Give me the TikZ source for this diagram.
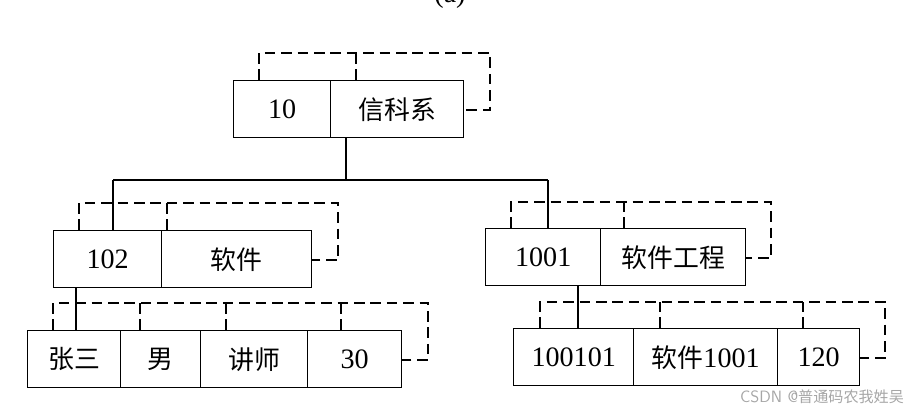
\documentclass[tikz,border=0pt]{standalone}
\usepackage{fontspec}
\setmainfont{Liberation Serif}
\newfontfamily\cjk{Noto Sans CJK SC}[Scale=0.92]
\begin{document}
\begin{tikzpicture}[x=0.03cm,y=-0.03cm,
  cellbox/.style={draw,line width=1.2pt,minimum height=57*0.03cm,inner sep=0pt,anchor=north west,font=\fontsize{24}{27}\selectfont},
  dsh/.style={draw,line width=1.1pt,dash pattern=on 9pt off 5pt},
  link/.style={draw,line width=1.2pt}]
\useasboundingbox (0,0) rectangle (917,415);
\clip (0,0) rectangle (917,415);
\node[font=\fontsize{24}{27}\selectfont] (lbl) at (450,-4) {(a)};
% top
\node[cellbox,minimum width=97*0.03cm] (t1) at (233,80) {10};
\node[cellbox,minimum width=133*0.03cm] (t2) at (330,80) {\cjk 信科系};
\draw[dsh] (259,80) -- (259,53) -- (490,53) -- (490,110) -- (463,110);
\draw[dsh] (356,80) -- (356,53);
% left mid
\node[cellbox,minimum width=108*0.03cm] (l1) at (53,230) {102};
\node[cellbox,minimum width=150*0.03cm] (l2) at (161,230) {\cjk 软件};
\draw[dsh] (79,230) -- (79,203) -- (338,203) -- (338,260) -- (311,260);
\draw[dsh] (167,230) -- (167,203);
% right mid
\node[cellbox,minimum width=115*0.03cm] (r1) at (485,228) {1001};
\node[cellbox,minimum width=145*0.03cm] (r2) at (600,228) {\cjk 软件工程};
\draw[dsh] (511,228) -- (511,202) -- (771,202) -- (771,258) -- (745,258);
\draw[dsh] (624,228) -- (624,202);
% left bottom
\node[cellbox,minimum width=93*0.03cm] (a1) at (27,330) {\cjk 张三};
\node[cellbox,minimum width=80*0.03cm] (a2) at (120,330) {\cjk 男};
\node[cellbox,minimum width=107*0.03cm] (a3) at (200,330) {\cjk 讲师};
\node[cellbox,minimum width=94*0.03cm] (a4) at (307,330) {30};
\draw[dsh] (53,330) -- (53,303) -- (428,303) -- (428,360) -- (401,360);
\foreach \x in {140,226,341} \draw[dsh] (\x,330) -- (\x,303);
% right bottom
\node[cellbox,minimum width=120*0.03cm] (b1) at (513,328) {100101};
\node[cellbox,minimum width=144*0.03cm] (b2) at (633,328) {{\cjk 软件}1001};
\node[cellbox,minimum width=82*0.03cm] (b3) at (777,328) {120};
\draw[dsh] (540,328) -- (540,302) -- (885,302) -- (885,358) -- (859,358);
\foreach \x in {660,803} \draw[dsh] (\x,328) -- (\x,302);
% links
\coordinate (j) at (346,180);
\draw[link] (t2.south west) ++(16,0) -- (j);
\draw[link] (113,180) -- (548,180);
\draw[link] (113,180) -- (113,230);
\draw[link] (548,180) -- (548,228);
\draw[link] (76,287) -- (76,330);
\draw[link] (578,285) -- (578,328);
\node[text=gray!70,font=\sffamily\fontsize{14}{16}\selectfont,anchor=east] (wm) at (908,397) {CSDN @{\cjk 普通码农我姓吴}};
\end{tikzpicture}
\end{document}
